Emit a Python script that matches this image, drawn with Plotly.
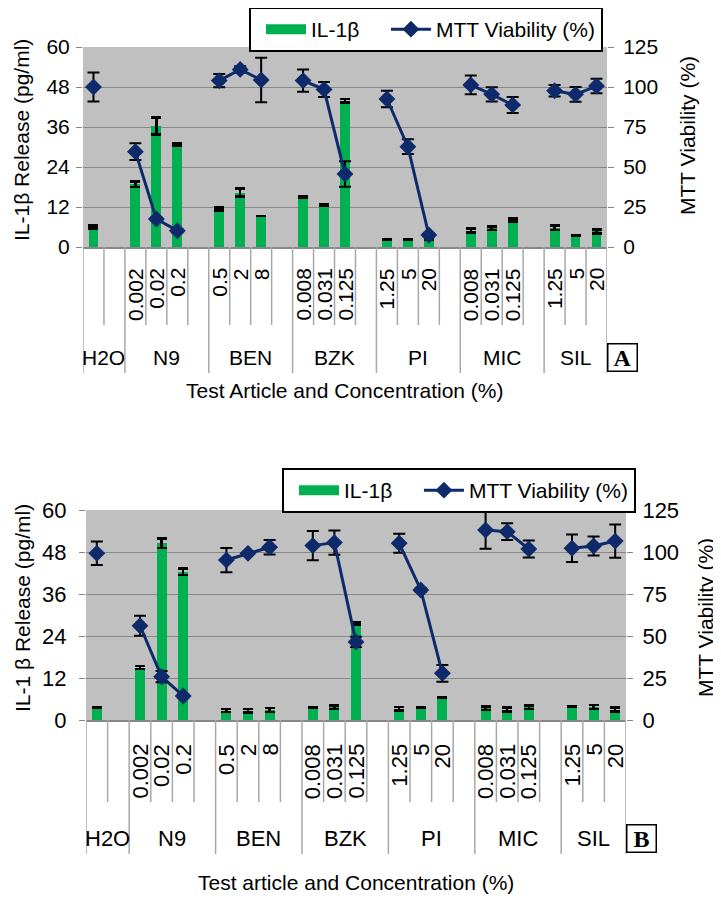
import plotly.graph_objects as go

# page body has an 8px margin: figure is sized and positioned to compensate
OFF = 8
W, H = 721 - OFF, 901 - OFF

# ---------------- data ----------------
groups = ["H2O", "N9", "BEN", "BZK", "PI", "MIC", "SIL"]
group_sizes = [2, 4, 4, 4, 4, 4, 3]
conc_labels = ["", "", "0.002", "0.02", "0.2", "",
               "0.5", "2", "8", "",
               "0.008", "0.031", "0.125", "",
               "1.25", "5", "20", "",
               "0.008", "0.031", "0.125", "",
               "1.25", "5", "20"]

il1b_a = [6.0, None, 18.8, 36.3, 30.8, None, 11.4, 16.3, 9.3, None,
          15.0, 12.6, 43.9, None, 2.3, 2.3, 2.3, None,
          4.9, 5.6, 8.1, None, 5.8, 3.4, 4.7]
il1b_a_err = [0.4, None, 0.8, 2.5, 0.3, None, 0.5, 1.2, 0, None,
              0.3, 0.3, 0.5, None, 0, 0, 0, None,
              0.6, 0.5, 0.45, None, 0.65, 0, 0.6]
mtt_a = [100, None, 59.6, 17.5, 10.2, None, 104, 111, 104.4, None,
         104, 98.5, 45.6, None, 92.5, 62.7, 7.5, None,
         101.3, 95.4, 88.8, None, 97.7, 95.4, 100.6]
mtt_a_err = [9, None, 5.2, 1, 1, None, 4.2, 2, 13.9, None,
             7, 4.7, 8, None, 5.1, 4.6, 1, None,
             5.9, 4.5, 5, None, 3.6, 4.6, 4.5]

il1b_b = [3.6, None, 15.0, 50.5, 42.4, None, 2.7, 2.6, 2.9, None,
          3.6, 3.6, 27.5, None, 3.2, 3.6, 6.5, None,
          3.4, 3.0, 3.7, None, 3.8, 3.7, 3.0]
il1b_b_err = [0, None, 0.4, 1.3, 0.9, None, 0.4, 0.5, 0.55, None,
              0, 0.5, 0.3, None, 0.55, 0, 0, None,
              0.5, 0.55, 0.5, None, 0, 0.55, 0.55]
mtt_b = [99.2, None, 56.1, 25.8, 14.3, None, 95.2, 99.2, 102.8, None,
         103.8, 105.6, 46.5, None, 105.2, 77.4, 27.8, None,
         113.1, 112.1, 101.8, None, 102.2, 103.6, 106.5]
mtt_b_err = [7, None, 6, 3.3, 1, None, 7.2, 1, 4.3, None,
             8.7, 7.2, 3, None, 5.6, 1, 5, None,
             11.1, 5, 5, None, 8.2, 5.7, 9.9]

left_ticks = [0, 12, 24, 36, 48, 60]
right_ticks = [0, 25, 50, 75, 100, 125]

x_title_a = "Test Article and Concentration (%)"
x_title_b = "Test article and Concentration (%)"
left_title = "IL-1\u03b2 Release (pg/ml)"
left_title_b = "IL-1 \u03b2 Release (pg/ml)"
right_title = "MTT Viability (%)"
panel_letters = ["A", "B"]

# ---------------- style ----------------
GREEN = "#00B050"
NAVY = "#0E2A6A"
PLOT_BG = "#C0C0C0"
GRID = "#878787"
DIV = "#A8A8A8"
FONT = "Liberation Sans, Arial, sans-serif"


def px(p):
    return (p - OFF) / W


def py(p):
    return 1 - (p - OFF) / H


xs = list(range(len(conc_labels)))

panels = [
    dict(x0=83, x1=607, y0=47, y1=247, conc_top=266, short=325, long=373,
         glab=357, xt=390, lt=(22, 140), rt=(688, 136), leg=(249, 7),
         il=il1b_a, ile=il1b_a_err, mt=mtt_a, mte=mtt_a_err,
         xtitle=x_title_a, ltitle=left_title, fs=21, standoff_l=2, standoff_r=5),
    dict(x0=86, x1=626, y0=510, y1=720, conc_top=742, short=802, long=854,
         glab=838, xt=882, lt=(22, 608), rt=(705, 618), leg=(282, 468),
         il=il1b_b, ile=il1b_b_err, mt=mtt_b, mte=mtt_b_err,
         xtitle=x_title_b, ltitle=left_title_b, fs=22, standoff_l=8, standoff_r=5),
]

fig = go.Figure()
shapes = []
annotations = []
layout = {}

for k, p in enumerate(panels):
    xa = "x" if k == 0 else "x2"
    yl = "y" if k == 0 else "y3"
    yr = "y2" if k == 0 else "y4"
    legname = "legend" if k == 0 else "legend2"

    fig.add_trace(go.Bar(
        x=xs, y=p["il"], xaxis=xa, yaxis=yl, width=0.47,
        marker=dict(color=GREEN, line=dict(width=0)),
        error_y=dict(type="data", array=p["ile"], color="black",
                     thickness=2.5, width=5),
        name="IL-1\u03b2", showlegend=False))
    # legend swatch for the bars
    fig.add_trace(go.Scatter(
        x=[None], y=[None], xaxis=xa, yaxis=yl, mode="lines",
        line=dict(color=GREEN, width=10), name="IL-1\u03b2\u00a0\u00a0",
        legend=legname, showlegend=True))
    fig.add_trace(go.Scatter(
        x=xs, y=p["mt"], xaxis=xa, yaxis=yr, mode="lines+markers",
        line=dict(color=NAVY, width=3),
        marker=dict(symbol="diamond", size=13, color=NAVY),
        error_y=dict(type="data", array=p["mte"], color="black",
                     thickness=2, width=6),
        connectgaps=False, name="MTT Viability (%)",
        legend=legname, showlegend=True))

    xdom = [px(p["x0"]), px(p["x1"])]
    ydom = [py(p["y1"]), py(p["y0"])]
    xkey = "xaxis" if k == 0 else "xaxis2"
    ylkey = "yaxis" if k == 0 else "yaxis3"
    yrkey = "yaxis2" if k == 0 else "yaxis4"
    layout[xkey] = dict(domain=xdom, anchor=yl, range=[-0.5, len(xs) - 0.5],
                        showticklabels=False, ticks="", showgrid=False,
                        zeroline=False, showline=True, linecolor=GRID,
                        linewidth=1.5, fixedrange=True)
    layout[ylkey] = dict(domain=ydom, anchor=xa, range=[0, 60],
                         tickvals=left_ticks, ticks="outside", ticklen=6,
                         tickcolor=GRID, showgrid=True, gridcolor=GRID,
                         gridwidth=1, zeroline=False, showline=False,
                         tickfont=dict(size=p["fs"], color="black", family=FONT),
                         ticklabelstandoff=p["standoff_l"])
    layout[yrkey] = dict(overlaying=yl, side="right", anchor=xa, range=[0, 125],
                         tickvals=right_ticks, ticks="outside", ticklen=6,
                         tickcolor=GRID, showgrid=False, zeroline=False,
                         showline=False,
                         tickfont=dict(size=p["fs"], color="black", family=FONT),
                         ticklabelstandoff=p["standoff_r"])

    layout[legname] = dict(
        x=px(p["leg"][0]), y=py(p["leg"][1]), xanchor="left", yanchor="top",
        orientation="h", bgcolor="white", bordercolor="black", borderwidth=2,
        itemwidth=40, indentation=10,
        font=dict(size=21, color="black", family=FONT), traceorder="normal")

    # category dividers
    edges = [0]
    for s in group_sizes:
        edges.append(edges[-1] + s)
    for i in range(len(xs) + 1):
        is_group = i in edges
        shapes.append(dict(
            type="line", xref=xa, yref="paper",
            x0=i - 0.5, x1=i - 0.5,
            y0=py(p["y1"]), y1=py(p["long"] if is_group else p["short"]),
            line=dict(color=DIV, width=1.5)))
    # concentration labels
    for i, lab in enumerate(conc_labels):
        if lab:
            annotations.append(dict(
                x=i, xref=xa, y=py(p["conc_top"]), yref="paper",
                text=lab, textangle=-90, xanchor="center", yanchor="top",
                showarrow=False,
                font=dict(size=p["fs"], color="black", family=FONT)))
    # group labels
    for g, s, e in zip(groups, group_sizes, edges):
        annotations.append(dict(
            x=e + (s - 1) / 2, xref=xa, y=py(p["glab"]), yref="paper",
            text=g, xanchor="center", yanchor="middle", showarrow=False,
            font=dict(size=p["fs"], color="black", family=FONT)))
    # panel letter
    annotations.append(dict(
        x=px(p["x1"]), xref="paper", y=py(p["glab"]), yref="paper",
        text="<b>" + panel_letters[k] + "</b>", xanchor="left",
        yanchor="middle", showarrow=False, bgcolor="white",
        bordercolor="black", borderwidth=1.5, borderpad=1,
        width=26, height=24,
        font=dict(size=24, color="black", family="Liberation Serif, Times New Roman, serif")))
    # axis titles
    annotations.append(dict(
        x=(xdom[0] + xdom[1]) / 2, xref="paper", y=py(p["xt"]), yref="paper",
        text=p["xtitle"], xanchor="center", yanchor="middle", showarrow=False,
        font=dict(size=21, color="black", family=FONT)))
    annotations.append(dict(
        x=px(p["lt"][0]), xref="paper", y=py(p["lt"][1]), yref="paper",
        text=p["ltitle"], textangle=-90, xanchor="center", yanchor="middle",
        showarrow=False, font=dict(size=21, color="black", family=FONT)))
    annotations.append(dict(
        x=px(p["rt"][0]), xref="paper", y=py(p["rt"][1]), yref="paper",
        text=right_title, textangle=-90, xanchor="center", yanchor="middle",
        showarrow=False, font=dict(size=21, color="black", family=FONT)))

fig.update_layout(
    width=W, height=H, template="none",
    margin=dict(l=0, r=0, t=0, b=0, autoexpand=False),
    paper_bgcolor="white", plot_bgcolor=PLOT_BG,
    font=dict(family=FONT, color="black"),
    barmode="overlay", bargap=0,
    shapes=shapes, annotations=annotations,
    **layout)

fig.write_html("out.html")
